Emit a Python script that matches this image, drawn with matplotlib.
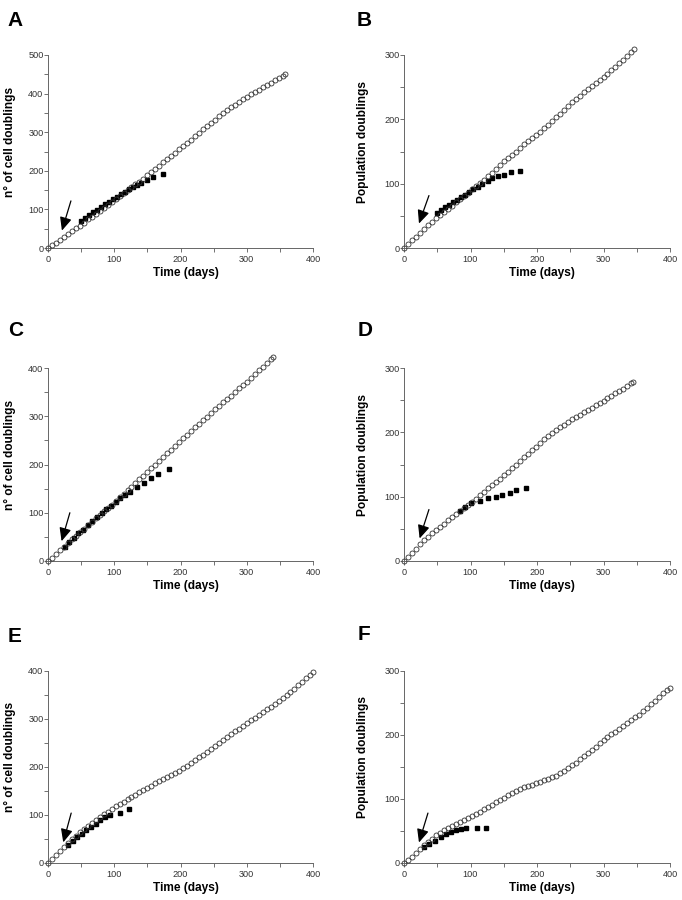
import matplotlib
matplotlib.use('Agg')
import matplotlib.pyplot as plt
from matplotlib.ticker import MultipleLocator

plt.rcParams['font.family'] = ['Liberation Sans', 'DejaVu Sans']

# ---- panel A : cell doublings ----
a_days = [0, 6, 12, 18, 24, 30, 36, 42, 48, 54, 60, 66, 72, 78, 84, 90, 96, 102, 108, 114,
          120, 126, 132, 138, 144, 150, 156, 162, 168, 174, 180, 186, 192, 198, 204, 210, 216,
          222, 228, 234, 240, 246, 252, 258, 264, 270, 276, 282, 288, 294, 300, 306, 312, 318,
          324, 330, 336, 342, 348, 354, 358]
a_pd = [0, 7, 14, 21, 28, 36, 43, 51, 58, 66, 74, 81, 89, 97, 104, 112, 120, 128, 135, 143,
        150, 158, 165, 172, 180, 188, 196, 205, 213, 222, 230, 239, 247, 256, 264, 273, 281,
        290, 298, 307, 315, 324, 332, 341, 349, 357, 364, 371, 378, 386, 392, 398, 404, 410,
        416, 422, 428, 434, 440, 446, 450]
a_sq_days = [50, 56, 62, 68, 74, 80, 86, 92, 98, 104, 110, 116, 122, 128, 134, 141, 150, 159, 173]
a_sq_pd = [70, 77, 85, 92, 99, 106, 113, 120, 127, 133, 140, 146, 152, 158, 163, 169, 176, 185, 193]

# ---- panel B : population doublings ----
b_days = [0, 6, 12, 18, 24, 30, 36, 42, 48, 54, 60, 66, 72, 78, 84, 90, 96, 102, 108, 114,
          120, 126, 132, 138, 144, 150, 156, 162, 168, 174, 180, 186, 192, 198, 204, 210, 216,
          222, 228, 234, 240, 246, 252, 258, 264, 270, 276, 282, 288, 294, 300, 306, 312, 318,
          324, 330, 336, 342, 346]
b_pd = [0, 6, 12, 17, 23, 29, 35, 40, 46, 51, 56, 61, 66, 71, 76, 81, 86, 91, 96, 101,
        106, 112, 117, 123, 129, 135, 140, 145, 150, 156, 161, 166, 171, 176, 181, 186, 191,
        197, 203, 209, 215, 221, 227, 232, 237, 242, 247, 252, 256, 261, 266, 271, 276, 281,
        287, 292, 298, 305, 310]
b_sq_days = [50, 56, 62, 68, 74, 80, 86, 92, 98, 104, 111, 118, 126, 133, 141, 151, 161, 175]
b_sq_pd = [54, 59, 63, 67, 71, 75, 79, 83, 87, 91, 95, 100, 104, 109, 112, 114, 118, 120]

# ---- panel C ----
c_days = [0, 6, 12, 18, 24, 30, 36, 42, 48, 54, 60, 66, 72, 78, 84, 90, 96, 102, 108, 114,
          120, 126, 132, 138, 144, 150, 156, 162, 168, 174, 180, 186, 192, 198, 204, 210, 216,
          222, 228, 234, 240, 246, 252, 258, 264, 270, 276, 282, 288, 294, 300, 306, 312, 318,
          324, 330, 336, 340]
c_pd = [0, 7, 15, 22, 30, 37, 45, 52, 60, 67, 74, 81, 89, 96, 103, 110, 117, 124, 132, 139,
        147, 154, 162, 169, 177, 184, 192, 200, 207, 215, 223, 231, 239, 246, 254, 262, 269,
        277, 284, 292, 299, 307, 314, 322, 329, 336, 343, 350, 358, 365, 372, 380, 388, 396,
        403, 411, 418, 423]
c_sq_days = [25, 32, 39, 46, 53, 60, 67, 74, 81, 88, 95, 102, 109, 116, 124, 135, 145, 156, 166, 183]
c_sq_pd = [30, 39, 48, 57, 65, 74, 82, 91, 99, 107, 115, 123, 130, 137, 144, 153, 162, 171, 181, 190]

# ---- panel D ----
d_days = [0, 6, 12, 18, 24, 30, 36, 42, 48, 54, 60, 66, 72, 78, 84, 90, 96, 102, 108, 114,
          120, 126, 132, 138, 144, 150, 156, 162, 168, 174, 180, 186, 192, 198, 204, 210, 216,
          222, 228, 234, 240, 246, 252, 258, 264, 270, 276, 282, 288, 294, 300, 306, 312, 318,
          324, 330, 336, 342, 345]
d_pd = [0, 6, 13, 19, 26, 32, 37, 43, 48, 53, 58, 63, 68, 73, 78, 83, 87, 92, 97, 102,
        107, 113, 118, 123, 128, 134, 139, 144, 150, 155, 161, 166, 172, 177, 183, 189, 194,
        199, 204, 208, 212, 216, 220, 224, 227, 231, 235, 238, 242, 245, 249, 253, 257, 261,
        264, 268, 272, 277, 279]
d_sq_days = [84, 92, 101, 114, 126, 138, 148, 159, 169, 184]
d_sq_pd = [78, 84, 90, 94, 97.5, 100, 102, 106, 110, 113.5]

# ---- panel E ----
e_days = [0, 6, 12, 18, 24, 30, 36, 42, 48, 54, 60, 66, 72, 78, 84, 90, 96, 102, 108, 114,
          120, 126, 132, 138, 144, 150, 156, 162, 168, 174, 180, 186, 192, 198, 204, 210, 216,
          222, 228, 234, 240, 246, 252, 258, 264, 270, 276, 282, 288, 294, 300, 306, 312, 318,
          324, 330, 336, 342, 348, 354, 360, 366, 372, 378, 384, 390, 396, 400]
e_pd = [0, 8, 17, 25, 34, 41, 49, 56, 64, 70, 77, 83, 90, 96, 102, 107, 112, 118, 123, 128,
        133, 138, 142, 147, 152, 157, 161, 166, 170, 174, 179, 183, 187, 192, 197, 203, 208,
        214, 220, 226, 232, 238, 244, 250, 256, 262, 268, 274, 280, 286, 292, 298, 303, 309,
        314, 320, 326, 332, 337, 344, 350, 356, 363, 370, 377, 385, 392, 397]
e_sq_days = [30, 37, 44, 51, 58, 65, 72, 79, 86, 93, 109, 122]
e_sq_pd = [38, 46, 54, 61, 68, 75, 82, 89, 95, 100, 105, 113]

# ---- panel F ----
f_days = [0, 6, 12, 18, 24, 30, 36, 42, 48, 54, 60, 66, 72, 78, 84, 90, 96, 102, 108, 114,
          120, 126, 132, 138, 144, 150, 156, 162, 168, 174, 180, 186, 192, 198, 204, 210, 216,
          222, 228, 234, 240, 246, 252, 258, 264, 270, 276, 282, 288, 294, 300, 306, 312, 318,
          324, 330, 336, 342, 348, 354, 360, 366, 372, 378, 384, 390, 396, 400]
f_pd = [0, 5, 10, 16, 22, 28, 33, 38, 43, 47, 51, 54, 58, 61, 64, 67, 70, 73, 77, 80,
        84, 88, 91, 95, 98, 102, 106, 109, 112, 115, 118, 120, 122, 125, 127, 129, 131,
        134, 136, 140, 144, 149, 153, 157, 162, 167, 172, 177, 182, 187, 192, 197, 201, 205,
        210, 214, 219, 223, 228, 232, 237, 242, 248, 253, 259, 265, 270, 273]
f_sq_days = [30, 38, 46, 55, 63, 70, 78, 85, 93, 110, 123]
f_sq_pd = [25, 30, 35, 40, 45, 49, 51.5, 53, 54, 54.5, 54.5]

ylab_cells = 'n\u00b0 of cell doublings'
ylab_pop = 'Population doublings'

# arrow (tail, tip) in data units
arrows = {
    'A': ((34.6, 122), (21, 45)),
    'B': ((37.5, 81.5), (22.5, 38)),
    'C': ((33, 100), (20.5, 41)),
    'D': ((37.5, 80), (23.5, 35)),
    'E': ((35, 104), (23, 43)),
    'F': ((36, 78), (22.5, 32)),
}

W, H = 682, 900
fig = plt.figure(figsize=(W / 100, H / 100), dpi=100)

col_left = [48, 404]
col_width = [265, 266]
row_top = [55, 368, 671]
row_bottom = [248, 561, 863]

panels = [
    ('A', 0, 0, a_days, a_pd, a_sq_days, a_sq_pd, 500, ylab_cells, (7, 26)),
    ('B', 0, 1, b_days, b_pd, b_sq_days, b_sq_pd, 300, ylab_pop, (357, 26)),
    ('C', 1, 0, c_days, c_pd, c_sq_days, c_sq_pd, 400, ylab_cells, (8, 336)),
    ('D', 1, 1, d_days, d_pd, d_sq_days, d_sq_pd, 300, ylab_pop, (358, 336)),
    ('E', 2, 0, e_days, e_pd, e_sq_days, e_sq_pd, 400, ylab_cells, (8, 642)),
    ('F', 2, 1, f_days, f_pd, f_sq_days, f_sq_pd, 300, ylab_pop, (358, 640)),
]

for name, r, c, days, pd_, sq_days, sq_pd, ymax, ylab, letter_xy in panels:
    left = col_left[c] / W
    width = col_width[c] / W
    bottom = 1 - row_bottom[r] / H
    height = (row_bottom[r] - row_top[r]) / H
    ax = fig.add_axes([left, bottom, width, height])

    ax.plot(sq_days, sq_pd, 's', ms=2.8, color='black', zorder=2, clip_on=False)
    ax.plot(days, pd_, 'o', ms=3.6, mfc='none', mec='0.2', mew=0.6,
            zorder=3, clip_on=False)

    ax.set_xlim(0, 400)
    ax.set_ylim(0, ymax)
    ax.xaxis.set_major_locator(MultipleLocator(100))
    ax.xaxis.set_minor_locator(MultipleLocator(50))
    ax.yaxis.set_major_locator(MultipleLocator(100))
    ax.yaxis.set_minor_locator(MultipleLocator(50))
    ax.tick_params(which='both', direction='out', length=2.6, width=0.6,
                   color='0.35', labelsize=6.6, labelcolor='0.2')
    ax.tick_params(axis='y', which='both', pad=0.6)
    ax.tick_params(axis='x', which='both', pad=2.6)
    for s in ['top', 'right']:
        ax.spines[s].set_visible(False)
    for s in ['left', 'bottom']:
        ax.spines[s].set_color('0.4')
        ax.spines[s].set_linewidth(0.7)

    ax.set_xlabel('Time (days)', fontsize=8.6, fontweight='bold')
    ax.xaxis.set_label_coords(0.52, -0.1)
    ax.set_ylabel(ylab, fontsize=8.6, fontweight='bold')
    ax.yaxis.set_label_coords(-0.12 if c == 0 else -0.13, 0.55)

    tail, tip = arrows[name]
    ax.annotate('', xy=tip, xytext=tail,
                arrowprops=dict(arrowstyle='-|>,head_length=0.8,head_width=0.36',
                                color='black', lw=0.9, shrinkA=0, shrinkB=0,
                                mutation_scale=10))

    fig.text(letter_xy[0] / W, 1 - letter_xy[1] / H, name, fontsize=15,
             fontweight='bold', ha='left', va='baseline')

fig.savefig('out.png', dpi=100)
